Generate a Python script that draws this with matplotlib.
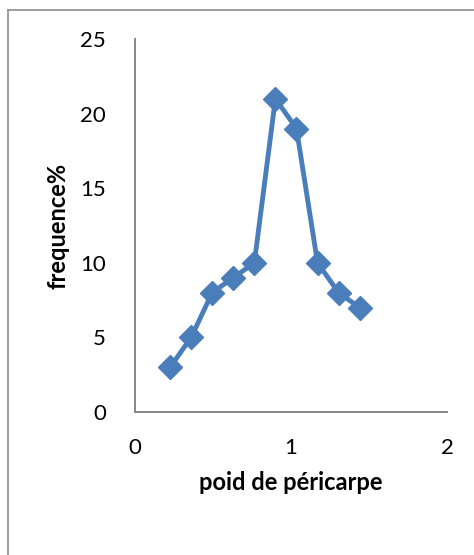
import matplotlib
matplotlib.use("Agg")
import matplotlib.pyplot as plt
from matplotlib.lines import Line2D

# Pericarp weight classes and their frequency (%)
poids = [0.225, 0.36, 0.495, 0.63, 0.765, 0.90, 1.035, 1.17, 1.305, 1.44]
frequence = [3, 5, 8, 9, 10, 21, 19, 10, 8, 7]
xticks = [0, 1, 2]
yticks = [0, 5, 10, 15, 20, 25]

plt.rcParams['font.family'] = ['Lato', 'DejaVu Sans']

W, H = 474, 555
fig = plt.figure(figsize=(W / 100, H / 100), dpi=100)
ax = fig.add_axes([135 / W, 1 - 412 / H, (447 - 135) / W, (412 - 39) / H])

ax.plot(poids, frequence, color='#4A7EBB', linewidth=3.5, marker='D',
        markersize=12, markerfacecolor='#4A7EBB', markeredgecolor='#4A7EBB',
        solid_joinstyle='miter', clip_on=False)

ax.set_xlim(0, 2)
ax.set_ylim(0, 25)
ax.set_xticks(xticks)
ax.set_yticks(yticks)
ax.tick_params(length=0, labelsize=16, colors='black')
ax.tick_params(axis='x', pad=19)
ax.tick_params(axis='y', pad=21)
for side in ('top', 'right'):
    ax.spines[side].set_visible(False)
for side in ('left', 'bottom'):
    ax.spines[side].set_color('#868686')
    ax.spines[side].set_linewidth(1.4)

ax.set_xlabel('poid de péricarpe', fontsize=17, fontweight='bold', va='center')
ax.set_ylabel('frequence%', fontsize=17, fontweight='bold', va='center')
ax.xaxis.set_label_coords(0.498, -0.19)
ax.yaxis.set_label_coords(-0.247, 0.5)

# Chart area frame
fig.add_artist(Line2D([8 / W, 8 / W], [0, 1 - 10 / H], transform=fig.transFigure,
                      color='#8c8c8c', linewidth=1.2))
fig.add_artist(Line2D([8 / W, 1], [1 - 10 / H, 1 - 10 / H], transform=fig.transFigure,
                      color='#8c8c8c', linewidth=1.2))

fig.savefig('out.png', dpi=100, facecolor='white')
